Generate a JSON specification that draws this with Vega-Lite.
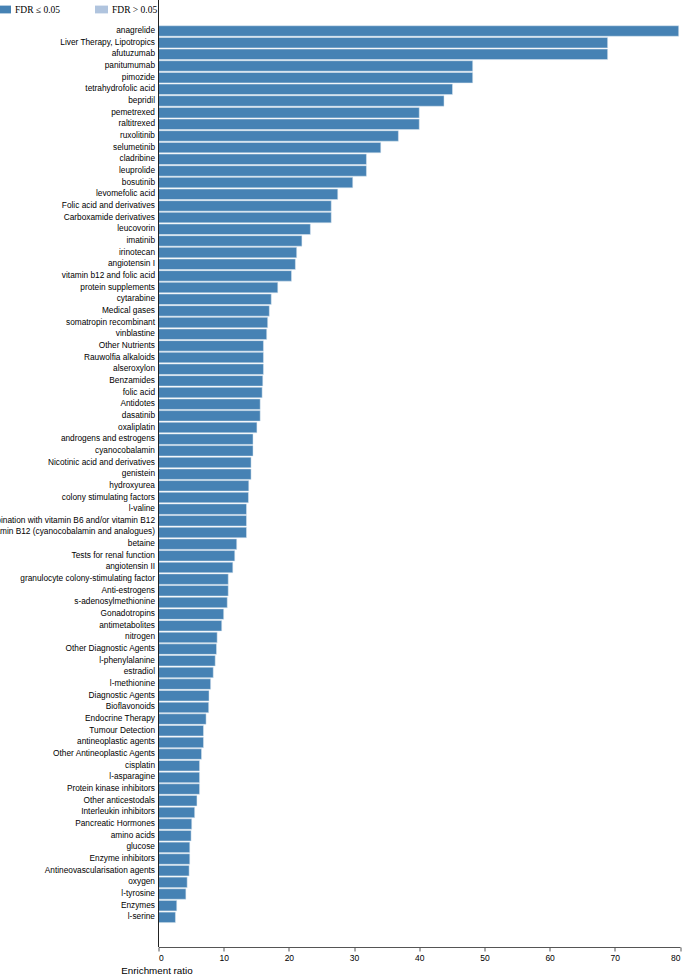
{
  "$schema": "https://vega.github.io/schema/vega-lite/v6.json",
  "autosize": {"type": "none"},
  "width": 521.5,
  "height": 947,
  "padding": {"left": 158.5, "top": 0, "right": 5, "bottom": 28},
  "background": "white",
  "config": {"view": {"stroke": null}},
  "data": {"values": [
    {"term": "anagrelide", "ratio": 79.8, "FDR": "FDR ≤ 0.05"},
    {"term": "Liver Therapy, Lipotropics", "ratio": 68.9, "FDR": "FDR ≤ 0.05"},
    {"term": "afutuzumab", "ratio": 68.9, "FDR": "FDR ≤ 0.05"},
    {"term": "panitumumab", "ratio": 48.2, "FDR": "FDR ≤ 0.05"},
    {"term": "pimozide", "ratio": 48.2, "FDR": "FDR ≤ 0.05"},
    {"term": "tetrahydrofolic acid", "ratio": 45.1, "FDR": "FDR ≤ 0.05"},
    {"term": "bepridil", "ratio": 43.8, "FDR": "FDR ≤ 0.05"},
    {"term": "pemetrexed", "ratio": 40.0, "FDR": "FDR ≤ 0.05"},
    {"term": "raltitrexed", "ratio": 40.0, "FDR": "FDR ≤ 0.05"},
    {"term": "ruxolitinib", "ratio": 36.8, "FDR": "FDR ≤ 0.05"},
    {"term": "selumetinib", "ratio": 34.1, "FDR": "FDR ≤ 0.05"},
    {"term": "cladribine", "ratio": 31.9, "FDR": "FDR ≤ 0.05"},
    {"term": "leuprolide", "ratio": 31.9, "FDR": "FDR ≤ 0.05"},
    {"term": "bosutinib", "ratio": 29.8, "FDR": "FDR ≤ 0.05"},
    {"term": "levomefolic acid", "ratio": 27.5, "FDR": "FDR ≤ 0.05"},
    {"term": "Folic acid and derivatives", "ratio": 26.5, "FDR": "FDR ≤ 0.05"},
    {"term": "Carboxamide derivatives", "ratio": 26.5, "FDR": "FDR ≤ 0.05"},
    {"term": "leucovorin", "ratio": 23.3, "FDR": "FDR ≤ 0.05"},
    {"term": "imatinib", "ratio": 22.0, "FDR": "FDR ≤ 0.05"},
    {"term": "irinotecan", "ratio": 21.2, "FDR": "FDR ≤ 0.05"},
    {"term": "angiotensin I", "ratio": 21.0, "FDR": "FDR ≤ 0.05"},
    {"term": "vitamin b12 and folic acid", "ratio": 20.4, "FDR": "FDR ≤ 0.05"},
    {"term": "protein supplements", "ratio": 18.3, "FDR": "FDR ≤ 0.05"},
    {"term": "cytarabine", "ratio": 17.3, "FDR": "FDR ≤ 0.05"},
    {"term": "Medical gases", "ratio": 17.0, "FDR": "FDR ≤ 0.05"},
    {"term": "somatropin recombinant", "ratio": 16.75, "FDR": "FDR ≤ 0.05"},
    {"term": "vinblastine", "ratio": 16.6, "FDR": "FDR ≤ 0.05"},
    {"term": "Other Nutrients", "ratio": 16.1, "FDR": "FDR ≤ 0.05"},
    {"term": "Rauwolfia alkaloids", "ratio": 16.1, "FDR": "FDR ≤ 0.05"},
    {"term": "alseroxylon", "ratio": 16.1, "FDR": "FDR ≤ 0.05"},
    {"term": "Benzamides", "ratio": 16.0, "FDR": "FDR ≤ 0.05"},
    {"term": "folic acid", "ratio": 15.9, "FDR": "FDR ≤ 0.05"},
    {"term": "Antidotes", "ratio": 15.6, "FDR": "FDR ≤ 0.05"},
    {"term": "dasatinib", "ratio": 15.6, "FDR": "FDR ≤ 0.05"},
    {"term": "oxaliplatin", "ratio": 15.1, "FDR": "FDR ≤ 0.05"},
    {"term": "androgens and estrogens", "ratio": 14.5, "FDR": "FDR ≤ 0.05"},
    {"term": "cyanocobalamin", "ratio": 14.5, "FDR": "FDR ≤ 0.05"},
    {"term": "Nicotinic acid and derivatives", "ratio": 14.2, "FDR": "FDR ≤ 0.05"},
    {"term": "genistein", "ratio": 14.2, "FDR": "FDR ≤ 0.05"},
    {"term": "hydroxyurea", "ratio": 13.85, "FDR": "FDR ≤ 0.05"},
    {"term": "colony stimulating factors", "ratio": 13.8, "FDR": "FDR ≤ 0.05"},
    {"term": "l-valine", "ratio": 13.5, "FDR": "FDR ≤ 0.05"},
    {"term": "Vitamin B1 in combination with vitamin B6 and/or vitamin B12", "ratio": 13.5, "FDR": "FDR ≤ 0.05"},
    {"term": "Vitamin B12 (cyanocobalamin and analogues)", "ratio": 13.5, "FDR": "FDR ≤ 0.05"},
    {"term": "betaine", "ratio": 12.0, "FDR": "FDR ≤ 0.05"},
    {"term": "Tests for renal function", "ratio": 11.7, "FDR": "FDR ≤ 0.05"},
    {"term": "angiotensin II", "ratio": 11.4, "FDR": "FDR ≤ 0.05"},
    {"term": "granulocyte colony-stimulating factor", "ratio": 10.7, "FDR": "FDR ≤ 0.05"},
    {"term": "Anti-estrogens", "ratio": 10.7, "FDR": "FDR ≤ 0.05"},
    {"term": "s-adenosylmethionine", "ratio": 10.55, "FDR": "FDR ≤ 0.05"},
    {"term": "Gonadotropins", "ratio": 10.0, "FDR": "FDR ≤ 0.05"},
    {"term": "antimetabolites", "ratio": 9.7, "FDR": "FDR ≤ 0.05"},
    {"term": "nitrogen", "ratio": 9.0, "FDR": "FDR ≤ 0.05"},
    {"term": "Other Diagnostic Agents", "ratio": 8.9, "FDR": "FDR ≤ 0.05"},
    {"term": "l-phenylalanine", "ratio": 8.7, "FDR": "FDR ≤ 0.05"},
    {"term": "estradiol", "ratio": 8.4, "FDR": "FDR ≤ 0.05"},
    {"term": "l-methionine", "ratio": 8.0, "FDR": "FDR ≤ 0.05"},
    {"term": "Diagnostic Agents", "ratio": 7.75, "FDR": "FDR ≤ 0.05"},
    {"term": "Bioflavonoids", "ratio": 7.7, "FDR": "FDR ≤ 0.05"},
    {"term": "Endocrine Therapy", "ratio": 7.3, "FDR": "FDR ≤ 0.05"},
    {"term": "Tumour Detection", "ratio": 6.9, "FDR": "FDR ≤ 0.05"},
    {"term": "antineoplastic agents", "ratio": 6.9, "FDR": "FDR ≤ 0.05"},
    {"term": "Other Antineoplastic Agents", "ratio": 6.6, "FDR": "FDR ≤ 0.05"},
    {"term": "cisplatin", "ratio": 6.3, "FDR": "FDR ≤ 0.05"},
    {"term": "l-asparagine", "ratio": 6.3, "FDR": "FDR ≤ 0.05"},
    {"term": "Protein kinase inhibitors", "ratio": 6.3, "FDR": "FDR ≤ 0.05"},
    {"term": "Other anticestodals", "ratio": 5.9, "FDR": "FDR ≤ 0.05"},
    {"term": "Interleukin inhibitors", "ratio": 5.55, "FDR": "FDR ≤ 0.05"},
    {"term": "Pancreatic Hormones", "ratio": 5.1, "FDR": "FDR ≤ 0.05"},
    {"term": "amino acids", "ratio": 5.0, "FDR": "FDR ≤ 0.05"},
    {"term": "glucose", "ratio": 4.8, "FDR": "FDR ≤ 0.05"},
    {"term": "Enzyme inhibitors", "ratio": 4.8, "FDR": "FDR ≤ 0.05"},
    {"term": "Antineovascularisation agents", "ratio": 4.7, "FDR": "FDR ≤ 0.05"},
    {"term": "oxygen", "ratio": 4.4, "FDR": "FDR ≤ 0.05"},
    {"term": "l-tyrosine", "ratio": 4.2, "FDR": "FDR ≤ 0.05"},
    {"term": "Enzymes", "ratio": 2.8, "FDR": "FDR ≤ 0.05"},
    {"term": "l-serine", "ratio": 2.6, "FDR": "FDR ≤ 0.05"}
  ]},
  "layer": [
    {
      "mark": {"type": "bar", "stroke": "#dfe8f1", "strokeWidth": 0.5},
      "encoding": {
        "y": {
          "field": "term", "type": "nominal", "sort": null,
          "scale": {"range": [25.75, 922.6], "paddingInner": 0.1, "paddingOuter": 0},
          "axis": {
            "title": null, "ticks": false, "domain": false,
            "labelPadding": 4, "labelFont": "Liberation Sans", "labelFontSize": 8.3,
            "labelColor": "#000", "labelLimit": 0
          }
        },
        "x": {
          "field": "ratio", "type": "quantitative",
          "scale": {"domain": [0, 80], "nice": false},
          "axis": {
            "values": [0, 10, 20, 30, 40, 50, 60, 70, 80], "grid": false,
            "tickSize": 4, "tickColor": "#555", "domainColor": "#555",
            "labelFont": "Liberation Sans", "labelFontSize": 8.5, "labelColor": "#000", "labelPadding": 2,
            "title": "Enrichment ratio", "titleFont": "Liberation Sans", "titleFontSize": 9.8,
            "titleFontWeight": "normal", "titleColor": "#000",
            "titleX": -2, "titleY": 23, "titleAlign": "center", "titleBaseline": "middle", "titleAnchor": "start"
          }
        },
        "color": {
          "field": "FDR", "type": "nominal",
          "scale": {"domain": ["FDR ≤ 0.05", "FDR > 0.05"], "range": ["#4682b4", "#b0c4de"]},
          "legend": {
            "title": null, "orient": "none", "direction": "horizontal",
            "legendX": -160.5, "legendY": 3,
            "symbolType": "M-1,-0.6H1V0.6H-1Z", "symbolSize": 169, "symbolStrokeWidth": 0, "symbolOpacity": 1,
            "labelFont": "Liberation Serif", "labelFontSize": 9.5, "labelColor": "#000",
            "labelOffset": 4, "columnPadding": 34
          }
        }
      }
    },
    {
      "data": {"values": [{"origin": 0}]},
      "mark": {"type": "rule", "color": "#222", "strokeWidth": 1},
      "encoding": {"x": {"field": "origin", "type": "quantitative"}}
    }
  ]
}
